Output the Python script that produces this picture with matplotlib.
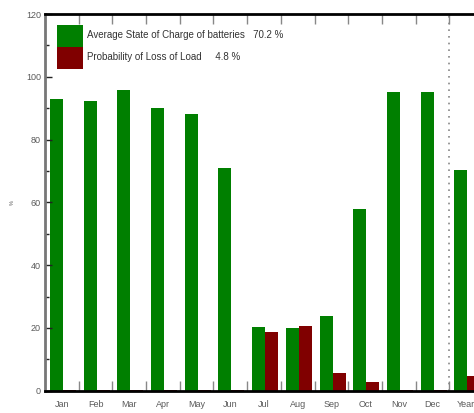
import matplotlib

matplotlib.use("Agg")

import matplotlib.pyplot as plt
import numpy as np

# Monthly battery results
meses = ["Jan", "Feb", "Mar", "Apr", "May", "Jun", "Jul", "Aug", "Sep", "Oct", "Nov", "Dec", "Year"]
soc = [92.8, 92.3, 95.7, 89.9, 88.3, 70.9, 20.4, 20.0, 23.9, 57.8, 95.2, 95.2, 70.2]
lolp = [0.3, 0.3, 0.3, 0.3, 0.3, 0.3, 18.6, 20.5, 5.7, 2.9, 0.3, 0.3, 4.8]

VERDE = "#007f00"
ROJO = "#800000"
GRIS = "#5a5a5a"

plt.rcParams["font.family"] = ["Liberation Sans Narrow", "Liberation Sans", "DejaVu Sans"]

fig = plt.figure(figsize=(4.74, 4.13), dpi=100)
ax = fig.add_axes([45 / 474, 1 - 390.7 / 413, 438 / 474, 376.7 / 413])

x = np.arange(1, len(meses) + 1)
ancho = 0.386
ax.bar(x - 0.159, soc, ancho, color=VERDE,
       label=f"Average State of Charge of batteries   {soc[-1]:.1f} %")
ax.bar(x + 0.227, lolp, ancho, color=ROJO,
       label=f"Probability of Loss of Load     {lolp[-1]:.1f} %")

# separador entre meses y el total anual
ax.axvline(12.5, color="#888888", linestyle=(0, (1, 3)), linewidth=1.2)

ax.set_xlim(0.5, 13.5)
ax.set_ylim(0, 120)

ax.set_xticks(x)
ax.set_xticklabels(meses)
ax.set_xticks(np.arange(1.5, 13.5, 1), minor=True)
ax.tick_params(axis="x", which="major", length=0, pad=7, labelsize=6.5, labelcolor=GRIS)
ax.tick_params(axis="x", which="minor", direction="in", length=7, width=1,
               color="#888888", top=True, bottom=True)

ax.set_yticks(np.arange(0, 121, 20))
ax.set_yticks(np.arange(10, 120, 20), minor=True)
ax.tick_params(axis="y", which="major", direction="in", length=5, width=1,
               color="#222222", labelsize=6.5, labelcolor=GRIS, pad=3)
ax.tick_params(axis="y", which="minor", direction="in", length=3, width=1, color="#222222")
ax.set_ylabel("%", fontsize=4, color=GRIS)
ax.yaxis.set_label_coords(-0.068, 0.5)

ax.spines["top"].set_linewidth(2)
ax.spines["top"].set_color("black")
ax.spines["bottom"].set_linewidth(2)
ax.spines["bottom"].set_color("black")
ax.spines["left"].set_linewidth(2)
ax.spines["left"].set_color("#777777")
ax.spines["right"].set_visible(False)

ax.legend(loc="upper left", bbox_to_anchor=(0.012, 0.99), frameon=False,
          fontsize=7, handlelength=2.67, handleheight=3.1, labelspacing=0,
          handletextpad=0.45, borderaxespad=0.3, labelcolor="#333333")

fig.savefig("out.png", dpi=100)
plt.close(fig)
